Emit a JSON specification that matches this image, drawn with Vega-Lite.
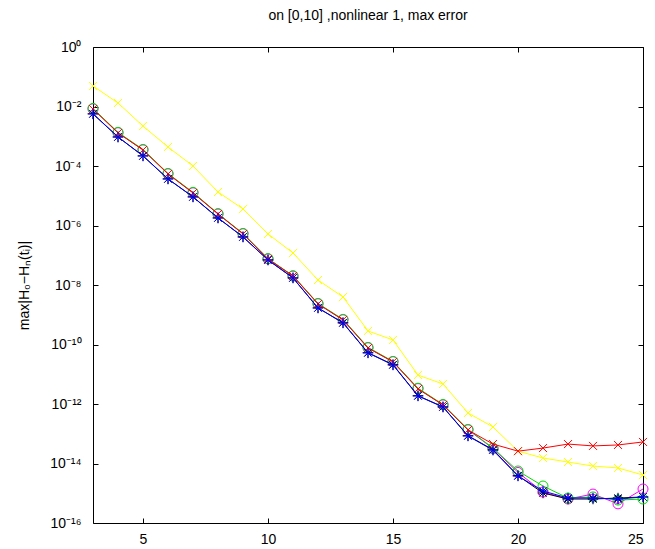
{
  "$schema": "https://vega.github.io/schema/vega-lite/v6.json",
  "autosize": "none",
  "width": 550,
  "height": 476,
  "padding": {"left": 93, "top": 47, "right": 12, "bottom": 26},
  "background": "white",
  "config": {
    "font": "Liberation Sans",
    "view": {"stroke": "black", "strokeWidth": 1},
    "axis": {"grid": false, "domainColor": "black", "tickColor": "black", "labelColor": "black", "titleColor": "black", "labelFont": "Liberation Sans", "titleFont": "Liberation Sans", "labelFontSize": 14, "titleFontWeight": "normal"}
  },
  "title": {"text": "on [0,10] ,nonlinear 1, max error", "fontSize": 14, "fontWeight": "normal", "font": "Liberation Sans", "color": "black", "offset": 17, "anchor": "middle"},
  "datasets": {
    "err": [
      {"n": 3, "s": "yellow", "v": 4.9e-2}, {"n": 4, "s": "yellow", "v": 1.31e-2}, {"n": 5, "s": "yellow", "v": 2.2e-3}, {"n": 6, "s": "yellow", "v": 4.35e-4}, {"n": 7, "s": "yellow", "v": 1.0e-4}, {"n": 8, "s": "yellow", "v": 1.34e-5}, {"n": 9, "s": "yellow", "v": 3.6e-6}, {"n": 10, "s": "yellow", "v": 5.2e-7}, {"n": 11, "s": "yellow", "v": 1.19e-7}, {"n": 12, "s": "yellow", "v": 1.47e-8}, {"n": 13, "s": "yellow", "v": 3.95e-9}, {"n": 14, "s": "yellow", "v": 2.85e-10}, {"n": 15, "s": "yellow", "v": 1.42e-10}, {"n": 16, "s": "yellow", "v": 9.4e-12}, {"n": 17, "s": "yellow", "v": 4.7e-12}, {"n": 18, "s": "yellow", "v": 5.0e-13}, {"n": 19, "s": "yellow", "v": 1.69e-13}, {"n": 20, "s": "yellow", "v": 2.6e-14}, {"n": 21, "s": "yellow", "v": 1.53e-14}, {"n": 22, "s": "yellow", "v": 1.12e-14}, {"n": 23, "s": "yellow", "v": 8.2e-15}, {"n": 24, "s": "yellow", "v": 7.1e-15}, {"n": 25, "s": "yellow", "v": 4.1e-15},

      {"n": 3, "s": "magenta", "v": 8.4e-3}, {"n": 4, "s": "magenta", "v": 1.32e-3}, {"n": 5, "s": "magenta", "v": 3.5e-4}, {"n": 6, "s": "magenta", "v": 5.5e-5}, {"n": 7, "s": "magenta", "v": 1.26e-5}, {"n": 8, "s": "magenta", "v": 2.45e-6}, {"n": 9, "s": "magenta", "v": 5.3e-7}, {"n": 10, "s": "magenta", "v": 7.6e-8}, {"n": 11, "s": "magenta", "v": 2.0e-8}, {"n": 12, "s": "magenta", "v": 2.35e-9}, {"n": 13, "s": "magenta", "v": 6.8e-10}, {"n": 14, "s": "magenta", "v": 7.8e-11}, {"n": 15, "s": "magenta", "v": 2.65e-11}, {"n": 16, "s": "magenta", "v": 3.3e-12}, {"n": 17, "s": "magenta", "v": 9.4e-13}, {"n": 18, "s": "magenta", "v": 1.36e-13}, {"n": 19, "s": "magenta", "v": 3.2e-14}, {"n": 20, "s": "magenta", "v": 5.0e-15}, {"n": 21, "s": "magenta", "v": 1.1e-15}, {"n": 22, "s": "magenta", "v": 6.4e-16}, {"n": 23, "s": "magenta", "v": 9.4e-16}, {"n": 24, "s": "magenta", "v": 4.4e-16}, {"n": 25, "s": "magenta", "v": 1.39e-15},

      {"n": 3, "s": "green", "v": 8.6e-3}, {"n": 4, "s": "green", "v": 1.35e-3}, {"n": 5, "s": "green", "v": 3.6e-4}, {"n": 6, "s": "green", "v": 5.6e-5}, {"n": 7, "s": "green", "v": 1.3e-5}, {"n": 8, "s": "green", "v": 2.5e-6}, {"n": 9, "s": "green", "v": 5.4e-7}, {"n": 10, "s": "green", "v": 7.7e-8}, {"n": 11, "s": "green", "v": 2.05e-8}, {"n": 12, "s": "green", "v": 2.4e-9}, {"n": 13, "s": "green", "v": 7.0e-10}, {"n": 14, "s": "green", "v": 8.0e-11}, {"n": 15, "s": "green", "v": 2.7e-11}, {"n": 16, "s": "green", "v": 3.4e-12}, {"n": 17, "s": "green", "v": 9.6e-13}, {"n": 18, "s": "green", "v": 1.4e-13}, {"n": 19, "s": "green", "v": 3.3e-14}, {"n": 20, "s": "green", "v": 5.6e-15}, {"n": 21, "s": "green", "v": 1.75e-15}, {"n": 22, "s": "green", "v": 6.9e-16}, {"n": 23, "s": "green", "v": 7.5e-16}, {"n": 24, "s": "green", "v": 5.9e-16}, {"n": 25, "s": "green", "v": 6.4e-16},

      {"n": 3, "s": "black", "v": 5.7e-3}, {"n": 4, "s": "black", "v": 9.5e-4}, {"n": 5, "s": "black", "v": 2.2e-4}, {"n": 6, "s": "black", "v": 3.7e-5}, {"n": 7, "s": "black", "v": 9.2e-6}, {"n": 8, "s": "black", "v": 1.8e-6}, {"n": 9, "s": "black", "v": 4.15e-7}, {"n": 10, "s": "black", "v": 7.0e-8}, {"n": 11, "s": "black", "v": 1.74e-8}, {"n": 12, "s": "black", "v": 1.7e-9}, {"n": 13, "s": "black", "v": 5.4e-10}, {"n": 14, "s": "black", "v": 5.3e-11}, {"n": 15, "s": "black", "v": 2.1e-11}, {"n": 16, "s": "black", "v": 1.9e-12}, {"n": 17, "s": "black", "v": 8.0e-13}, {"n": 18, "s": "black", "v": 8.6e-14}, {"n": 19, "s": "black", "v": 2.9e-14}, {"n": 20, "s": "black", "v": 3.9e-15}, {"n": 21, "s": "black", "v": 1.02e-15}, {"n": 22, "s": "black", "v": 6.4e-16}, {"n": 23, "s": "black", "v": 6.4e-16}, {"n": 24, "s": "black", "v": 6.9e-16}, {"n": 25, "s": "black", "v": 7.5e-16},

      {"n": 3, "s": "red", "v": 8.2e-3}, {"n": 4, "s": "red", "v": 1.29e-3}, {"n": 5, "s": "red", "v": 3.45e-4}, {"n": 6, "s": "red", "v": 5.4e-5}, {"n": 7, "s": "red", "v": 1.24e-5}, {"n": 8, "s": "red", "v": 2.44e-6}, {"n": 9, "s": "red", "v": 5.2e-7}, {"n": 10, "s": "red", "v": 7.5e-8}, {"n": 11, "s": "red", "v": 2.0e-8}, {"n": 12, "s": "red", "v": 2.3e-9}, {"n": 13, "s": "red", "v": 6.7e-10}, {"n": 14, "s": "red", "v": 7.6e-11}, {"n": 15, "s": "red", "v": 2.6e-11}, {"n": 16, "s": "red", "v": 3.2e-12}, {"n": 17, "s": "red", "v": 9.3e-13}, {"n": 18, "s": "red", "v": 1.34e-13}, {"n": 19, "s": "red", "v": 4.5e-14}, {"n": 20, "s": "red", "v": 2.6e-14}, {"n": 21, "s": "red", "v": 3.3e-14}, {"n": 22, "s": "red", "v": 4.5e-14}, {"n": 23, "s": "red", "v": 3.9e-14}, {"n": 24, "s": "red", "v": 4.2e-14}, {"n": 25, "s": "red", "v": 5.3e-14},

      {"n": 3, "s": "blue", "v": 5.6e-3}, {"n": 4, "s": "blue", "v": 9.4e-4}, {"n": 5, "s": "blue", "v": 2.17e-4}, {"n": 6, "s": "blue", "v": 3.66e-5}, {"n": 7, "s": "blue", "v": 9.1e-6}, {"n": 8, "s": "blue", "v": 1.79e-6}, {"n": 9, "s": "blue", "v": 4.1e-7}, {"n": 10, "s": "blue", "v": 6.9e-8}, {"n": 11, "s": "blue", "v": 1.72e-8}, {"n": 12, "s": "blue", "v": 1.69e-9}, {"n": 13, "s": "blue", "v": 5.3e-10}, {"n": 14, "s": "blue", "v": 5.2e-11}, {"n": 15, "s": "blue", "v": 2.05e-11}, {"n": 16, "s": "blue", "v": 1.86e-12}, {"n": 17, "s": "blue", "v": 7.9e-13}, {"n": 18, "s": "blue", "v": 8.4e-14}, {"n": 19, "s": "blue", "v": 2.8e-14}, {"n": 20, "s": "blue", "v": 3.8e-15}, {"n": 21, "s": "blue", "v": 1.19e-15}, {"n": 22, "s": "blue", "v": 6.9e-16}, {"n": 23, "s": "blue", "v": 6.9e-16}, {"n": 24, "s": "blue", "v": 6.4e-16}, {"n": 25, "s": "blue", "v": 7.5e-16}
    ]
  },
  "data": {"name": "err"},
  "layer": [
    {
      "encoding": {
        "x": {"field": "n", "type": "quantitative", "scale": {"domain": [3, 25], "nice": false, "zero": false},
          "axis": {"values": [5, 10, 15, 20, 25], "title": null, "tickSize": -5, "labelPadding": 14, "domain": false, "labelFontSize": 14}},
        "y": {"field": "v", "type": "quantitative", "scale": {"type": "log", "domain": [1e-16, 1], "nice": false},
          "axis": {"values": [1, 1e-2, 1e-4, 1e-6, 1e-8, 1e-10, 1e-12, 1e-14, 1e-16], "tickSize": -5, "labelPadding": 17, "labelFontSize": 14, "domain": false,
            "labelExpr": "'10' + replace(replace(replace(replace(replace(replace(replace(replace(replace(toString(round(log(datum.value)/LN10)), '-', '⁻'), '0', '⁰'), '1', '¹'), '2', '²'), '4', '⁴'), '6', '⁶'), '8', '⁸'), '3', '³'), '5', '⁵')",
            "title": "max|H₀−Hₙ(tᵢ)|", "titleFontSize": 14, "titlePadding": 18}}
      },
      "layer": [
        {"transform": [{"filter": "datum.s === 'yellow'"}], "mark": {"type": "line", "color": "#ffff00", "strokeWidth": 1, "point": {"shape": "M-1,-1L1,1M-1,1L1,-1", "filled": false, "stroke": "#ffff00", "strokeWidth": 1, "size": 64}}},
        {"transform": [{"filter": "datum.s === 'magenta'"}], "mark": {"type": "line", "color": "#ff00ff", "strokeWidth": 1, "point": {"shape": "circle", "filled": false, "stroke": "#ff00ff", "strokeWidth": 1, "size": 100}}},
        {"transform": [{"filter": "datum.s === 'green'"}], "mark": {"type": "line", "color": "#00dd00", "strokeWidth": 1, "point": {"shape": "circle", "filled": false, "stroke": "#00dd00", "strokeWidth": 1, "size": 100}}},
        {"transform": [{"filter": "datum.s === 'black'"}], "mark": {"type": "line", "color": "#000000", "strokeWidth": 1, "point": {"shape": "M-1,0L1,0M0,-1L0,1M-0.7,-0.7L0.7,0.7M-0.7,0.7L0.7,-0.7", "filled": false, "stroke": "#000000", "strokeWidth": 1, "size": 110}}},
        {"transform": [{"filter": "datum.s === 'red'"}], "mark": {"type": "line", "color": "#ff0000", "strokeWidth": 1, "point": {"shape": "M-1,-1L1,1M-1,1L1,-1", "filled": false, "stroke": "#ff0000", "strokeWidth": 1, "size": 64}}},
        {"transform": [{"filter": "datum.s === 'blue'"}], "mark": {"type": "line", "color": "#0000ff", "strokeWidth": 1, "point": {"shape": "M-1,0L1,0M0,-1L0,1M-0.7,-0.7L0.7,0.7M-0.7,0.7L0.7,-0.7", "filled": false, "stroke": "#0000ff", "strokeWidth": 1, "size": 110}}}
      ]
    },
    {"mark": {"type": "point", "opacity": 0},
      "encoding": {
        "x": {"field": "n", "type": "quantitative", "axis": {"orient": "top", "values": [5, 10, 15, 20, 25], "labels": false, "title": null, "tickSize": -5, "domain": false}},
        "y": {"field": "v", "type": "quantitative", "axis": {"orient": "right", "values": [1, 1e-2, 1e-4, 1e-6, 1e-8, 1e-10, 1e-12, 1e-14, 1e-16], "labels": false, "title": null, "tickSize": -5, "domain": false}}
      }}
  ],
  "resolve": {"axis": {"x": "independent", "y": "independent"}}
}
